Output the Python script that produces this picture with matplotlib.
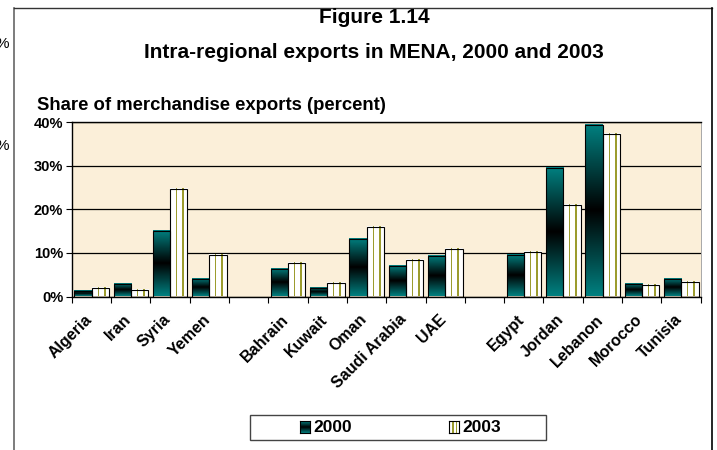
"""Intra-regional exports in MENA, 2000 and 2003 (grouped bar chart)
"""

import matplotlib
matplotlib.use("Agg")
import matplotlib.pyplot as plt
import matplotlib.ticker as ticker
import matplotlib.transforms as mtransforms
import numpy as np
from matplotlib.colors import LinearSegmentedColormap, ListedColormap
from matplotlib.lines import Line2D
from matplotlib.patches import Rectangle

# Data: share of merchandise exports going to the region (percent)
countries = ["Algeria", "Iran", "Syria", "Yemen",
             "Bahrain", "Kuwait", "Oman", "Saudi Arabia", "UAE",
             "Egypt", "Jordan", "Lebanon", "Morocco", "Tunisia"]
share_2000 = [1.2, 2.8, 15.0, 4.1,
              6.4, 2.0, 13.1, 6.9, 9.3,
              9.5, 29.4, 39.2, 2.9, 4.1]
share_2003 = [2.0, 1.5, 24.7, 9.6,
              7.7, 3.0, 16.0, 8.3, 11.0,
              10.3, 20.9, 37.2, 2.7, 3.4]
years = ["2000", "2003"]
# an empty slot is left before these country indices
group_breaks = [4, 9]

W, H = 717, 450
plt.rcParams['font.family'] = ['Liberation Sans', 'DejaVu Sans']

TEAL = "#008080"
OLIVE = "#9c9c2e"
BG = "#fbefd9"

shade_cmap = LinearSegmentedColormap.from_list(
    "teal_shade", [TEAL, "#000000", TEAL])
stripe_cmap = ListedColormap(["white", OLIVE])


def fx(px):
    return px / W


def fy(py):
    return 1 - py / H


def shade_teal(ax, x0, x1, y0, y1):
    grad = np.linspace(0, 1, 128).reshape(-1, 1)
    ax.imshow(grad, cmap=shade_cmap, aspect="auto", origin="lower",
              extent=(x0, x1, y0, y1), interpolation="bilinear", zorder=2)


def shade_stripes(ax, x0, x1, y0, y1):
    cols = np.linspace(0, 1, 48)
    stripe = ((cols > 0.30) & (cols < 0.42)) | ((cols > 0.66) & (cols < 0.78))
    ax.imshow(stripe[None, :].astype(float), cmap=stripe_cmap, vmin=0, vmax=1,
              aspect="auto", origin="lower", extent=(x0, x1, y0, y1),
              interpolation="nearest", zorder=2)


positions = np.array([i + sum(i >= b for b in group_breaks)
                      for i in range(len(countries))])
n_slots = positions.max() + 1
bar_w = 0.44

fig = plt.figure(figsize=(W / 100, H / 100), dpi=100)
ax = fig.add_axes([fx(71.7), fy(296.5), fx(700.7) - fx(71.7), fy(122) - fy(296.5)])
ax.set_facecolor(BG)

bars_a = ax.bar(positions - 0.215, share_2000, width=bar_w, facecolor="none",
                edgecolor="black", linewidth=0.8, zorder=3)
bars_b = ax.bar(positions + 0.225, share_2003, width=bar_w, facecolor="none",
                edgecolor="black", linewidth=0.8, zorder=3)
for p in bars_a:
    shade_teal(ax, p.get_x(), p.get_x() + p.get_width(), 0, p.get_height())
for p in bars_b:
    shade_stripes(ax, p.get_x(), p.get_x() + p.get_width(), 0, p.get_height())

ax.set_xlim(-0.5, n_slots - 0.5)
ax.set_ylim(0, 40)

# Y axis
ax.yaxis.set_major_locator(ticker.MultipleLocator(10))
ax.yaxis.set_major_formatter(ticker.StrMethodFormatter("{x:.0f}%"))
ax.tick_params(axis="y", length=4, width=0.8, pad=2, labelsize=10.5)
for lbl in ax.get_yticklabels():
    lbl.set_fontweight("bold")
ax.grid(axis="y", color="black", linewidth=0.9, zorder=1)
ax.set_axisbelow(True)

# X axis: tick marks between categories, labels at bar centres
ax.set_xticks(positions)
ax.set_xticklabels(countries, rotation=45, ha="right", rotation_mode="anchor",
                   fontsize=11.5, fontweight="bold")
ax.tick_params(axis="x", which="major", length=0, pad=11)
shift = mtransforms.ScaledTranslation(-7 / 100, 0, fig.dpi_scale_trans)
for lbl in ax.get_xticklabels():
    lbl.set_transform(lbl.get_transform() + shift)
ax.xaxis.set_minor_locator(ticker.FixedLocator(np.arange(-0.5, n_slots, 1)))
ax.tick_params(axis="x", which="minor", length=4, width=0.8)

for side in ["top", "left", "bottom"]:
    ax.spines[side].set_color("black")
    ax.spines[side].set_linewidth(1.0)
ax.spines["right"].set_color("#9a9a9a")
ax.spines["right"].set_linewidth(0.6)

# Titles
fig.text(fx(374), fy(17.5), "Figure 1.14", ha="center", va="center",
         fontsize=15, fontweight="bold")
fig.text(fx(374), fy(52.5), "Intra-regional exports in MENA, 2000 and 2003",
         ha="center", va="center", fontsize=15, fontweight="bold")
fig.text(fx(37), fy(105), "Share of merchandise exports (percent)",
         ha="left", va="center", fontsize=13.3, fontweight="bold")

# Outer frame
fig.add_artist(Line2D([fx(13.5), fx(13.5)], [fy(8), 0], color="#666666", lw=1.2))
fig.add_artist(Line2D([fx(13.5), fx(711.5)], [fy(8), fy(8)], color="#333333", lw=1.0))
fig.add_artist(Line2D([fx(711.5), fx(711.5)], [fy(8), 0], color="black", lw=1.2))

# Clipped text from the neighbouring panel
fig.text(fx(-5), fy(44), "%", ha="left", va="center", fontsize=11)
fig.text(fx(-5), fy(146), "%", ha="left", va="center", fontsize=11)

# Legend
fig.add_artist(Rectangle((fx(250), fy(440)), fx(546) - fx(250), fy(414.5) - fy(440),
                         facecolor="white", edgecolor="#444444", lw=1.0, zorder=-1))
swatches = [(300, shade_teal), (449, shade_stripes)]
for (sx, shader), year in zip(swatches, years):
    sax = fig.add_axes([fx(sx), fy(433), fx(10), fy(421) - fy(433)])
    sax.set_zorder(5)
    shader(sax, 0, 1, 0, 1)
    sax.set_xlim(0, 1)
    sax.set_ylim(0, 1)
    sax.set_xticks([])
    sax.set_yticks([])
    for s in sax.spines.values():
        s.set_linewidth(0.8)
    fig.text(fx(sx + 13), fy(427.5), year, ha="left", va="center",
             fontsize=12.5, fontweight="bold")

fig.savefig("out.png", dpi=100)
